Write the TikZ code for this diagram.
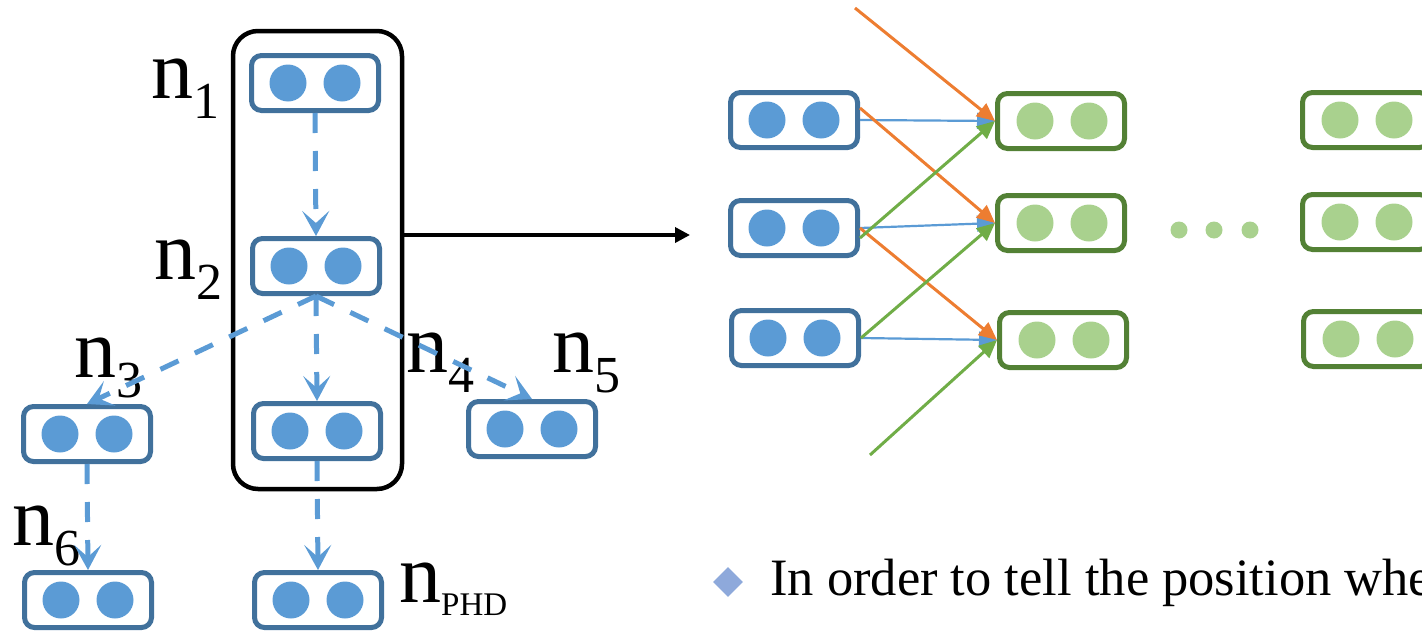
\documentclass[tikz,border=0pt]{standalone}
\usepackage{fontspec}
\setmainfont{Liberation Serif}
\usetikzlibrary{arrows.meta,shapes.geometric}
\definecolor{cellblue}{HTML}{41719C}
\definecolor{dotblue}{HTML}{5B9BD5}
\definecolor{cellgreen}{HTML}{538135}
\definecolor{dotgreen}{HTML}{A9D18E}
\definecolor{linkorange}{HTML}{ED7D31}
\definecolor{linkgreen}{HTML}{70AD47}
\definecolor{bulletblue}{HTML}{8EA9DB}
\newcommand{\nsub}[1]{n\raisebox{-20pt}{\fontsize{52}{52}\selectfont #1}}
\newcommand{\nphd}{n\raisebox{-13pt}{\fontsize{33}{33}\selectfont PHD}}

\begin{document}
\begin{tikzpicture}[x=1pt,y=-1pt,
  cell/.style={draw=cellblue,line width=5pt,rounded corners=10pt,minimum width=127pt,minimum height=55pt,inner sep=0pt},
  gcell/.style={cell,draw=cellgreen},
  lab/.style={anchor=base west,inner sep=0pt,font=\fontsize{84}{84}\selectfont},
  flow/.style={draw=dotblue,line width=5pt,dash pattern=on 20pt off 18pt,-{Stealth[length=25pt,width=27pt,inset=12pt]}},
  link/.style={line width=3pt,-{Triangle[length=18pt,width=16pt]}}]
\useasboundingbox (0,0) rectangle (1422,632);
\clip (0,0) rectangle (1422,632);
% history of one node
\node[draw,line width=4.5pt,rounded corners=25pt,minimum width=169pt,minimum height=458pt,inner sep=0pt] (hist) at (317.5,260) {};
\node[cell] (c1) at (315,83) {};
\node[cell] (c2) at (316,266) {};
\node[cell] (c3) at (87,434) {};
\node[cell] (c4) at (317,431) {};
\node[cell] (c5) at (532,429) {};
\node[cell] (c6) at (88,600) {};
\node[cell] (cphd) at (318,600) {};
\foreach \c in {c1,c2,c3,c4,c5,c6,cphd}
  \fill[dotblue] (\c) ++(-27,0) circle[radius=18.5pt] ++(54,0) circle[radius=18.5pt];
\node[lab] (l1) at (151,98) {\nsub{1}};
\node[lab] (l2) at (154,279) {\nsub{2}};
\node[lab] (l3) at (74,377) {\nsub{3}};
\node[lab] (l4) at (406,372) {\nsub{4}};
\node[lab] (l5) at (552,372) {\nsub{5}};
\node[lab] (l6) at (12,545) {\nsub{6}};
\node[lab] (lphd) at (399,602) {\nphd};
\draw[flow] (c1.south) -- (c2.north);
\draw[flow] (c2.south) -- (c3.north);
\draw[flow] (c2.south) -- (c4.north);
\draw[flow] (c2.south) -- (c5.north);
\draw[flow] (c3.south) -- (c6.north);
\draw[flow] (c4.south) -- (cphd.north);
\coordinate (emb) at (690,235);
\draw[line width=3.5pt,-{Triangle[length=15pt,width=15pt]}] (hist.east |- emb) -- (emb);
% layers on the right
\node[cell] (b1) at (794,120) {};
\node[cell] (b2) at (794,228) {};
\node[cell] (b3) at (795,338) {};
\node[gcell] (g1) at (1061,121) {};
\node[gcell] (g2) at (1061,223) {};
\node[gcell] (g3) at (1063,340) {};
\node[gcell] (h1) at (1366,120) {};
\node[gcell] (h2) at (1366,222) {};
\node[gcell] (h3) at (1367,339) {};
\foreach \c in {b1,b2,b3}
  \fill[dotblue] (\c) ++(-27,0) circle[radius=18.5pt] ++(54,0) circle[radius=18.5pt];
\foreach \c in {g1,g2,g3,h1,h2,h3}
  \fill[dotgreen] (\c) ++(-26,0) circle[radius=18.5pt] ++(54,0) circle[radius=18.5pt];
\foreach \x in {1179,1214,1250}
  \fill[dotgreen] (\x,230) circle[radius=8.5pt];
\draw[link,dotblue,line width=2.2pt] (b1.east) -- (g1.west);
\draw[link,dotblue,line width=2.2pt] (b2.east) -- (g2.west);
\draw[link,dotblue,line width=2.2pt] (b3.east) -- (g3.west);
\coordinate (otop) at (855,8);
\coordinate (gbot) at (870,455);
\draw[link,linkorange] (otop) -- (g1.west);
\draw[link,linkorange] ([yshift=12pt]b1.east) -- (g2.west);
\draw[link,linkorange] (b2.east) -- (g3.west);
\draw[link,linkgreen] ([yshift=-10pt]b2.east) -- (g1.west);
\draw[link,linkgreen] (b3.east) -- (g2.west);
\draw[link,linkgreen] (gbot) -- (g3.west);
% bullet text
\node[diamond,fill=bulletblue,minimum width=30pt,minimum height=30pt,inner sep=0pt] (bul) at (728,582) {};
\node[anchor=base west,inner sep=0pt,font=\fontsize{52.5}{60}\selectfont] (txt) at (770,595) {In order to tell the position where};
\end{tikzpicture}
\end{document}
